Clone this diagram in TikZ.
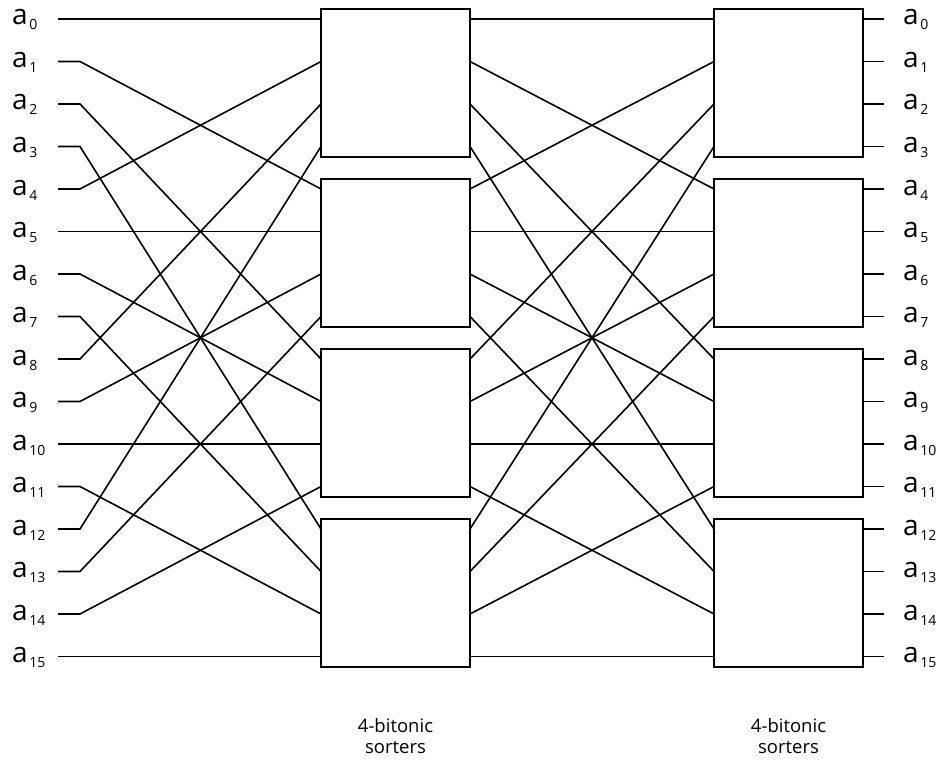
\documentclass[tikz,border=0pt]{standalone}
\usepackage{fontspec}
\setmainfont{Open Sans}
\newcommand\subidx[1]{\kern1.5pt\raisebox{-5pt}{\fontsize{14}{14}\selectfont #1}}
\begin{document}
\begin{tikzpicture}[x=1pt,y=-1pt,
  wire/.style={line width=1.6pt},
  sorter/.style={draw, line width=1.9pt, minimum width=149pt, minimum height=148pt, inner sep=0pt, fill=white},
  lab/.style={anchor=base west, inner sep=0pt, font=\fontsize{28}{28}\selectfont},
  caption/.style={align=center, inner sep=0pt, font=\fontsize{18.5}{21}\selectfont}]
\useasboundingbox (0,0) rectangle (941,765);
% boxes
\foreach \k in {0,1,2,3}{
  \node[sorter] (L\k) at (395.5, 82.75+170*\k) {};
  \node[sorter] (R\k) at (788.5, 82.75+170*\k) {};
}
% pin coordinates
\foreach \i in {0,...,15}{
  \pgfmathsetmacro\yy{19+42.5*\i}
  \coordinate (in\i) at (58,\yy);
  \coordinate (st\i) at (80,\yy);
  \coordinate (AL\i) at (321,\yy);
  \coordinate (AR\i) at (470,\yy);
  \coordinate (BL\i) at (714,\yy);
  \coordinate (BR\i) at (863,\yy);
  \coordinate (out\i) at (884,\yy);
  \node[lab] (la\i) at (12,\yy+6) {a\subidx{\i}};
  \node[lab] (ra\i) at (903,\yy+6) {a\subidx{\i}};
}
% wires
\foreach \i in {0,...,15}{
  \pgfmathtruncatemacro\p{4*mod(\i,4)+int(\i/4)}
  \draw[wire] (in\i) -- (st\i) -- (AL\p);
  \draw[wire] (AR\i) -- (BL\p);
  \draw[wire] (BR\i) -- (out\i);
}
% captions
\node[caption] (c1) at (395.5,736) {4-bitonic\\sorters};
\node[caption] (c2) at (788.5,736) {4-bitonic\\sorters};
\end{tikzpicture}
\end{document}
